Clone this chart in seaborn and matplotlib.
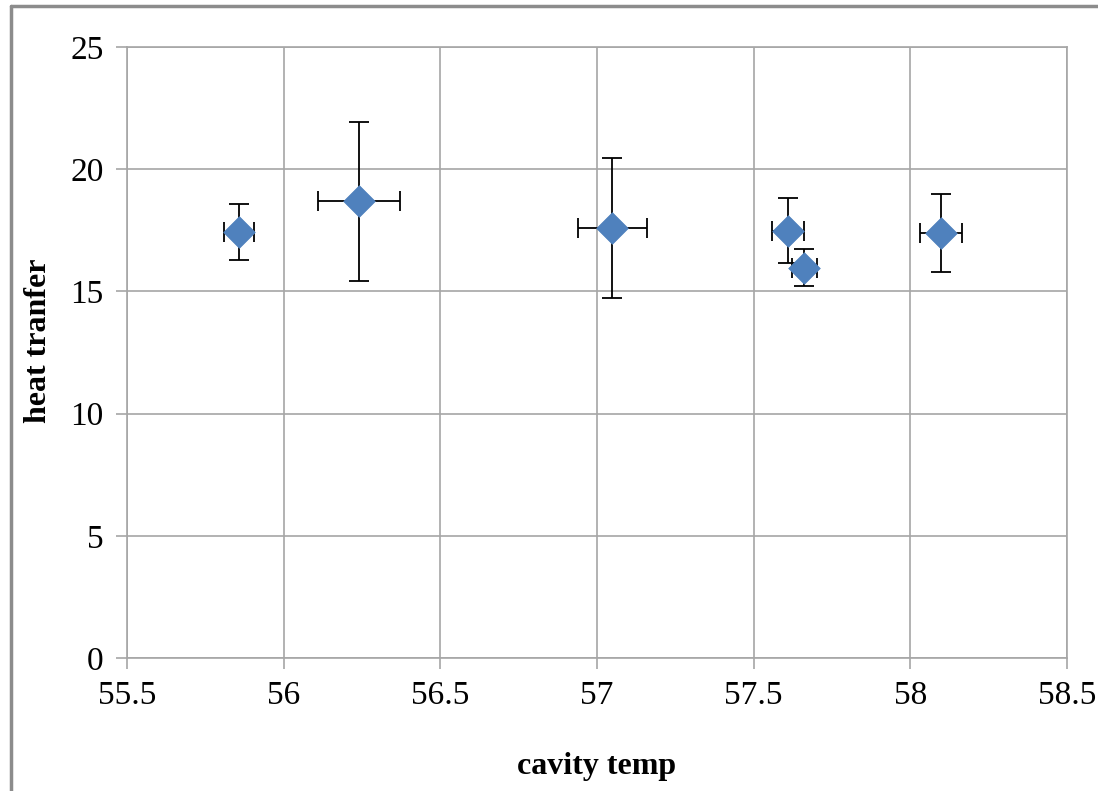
import seaborn as sns, matplotlib.pyplot as plt, pandas as pd
from matplotlib.lines import Line2D

cavity_temp = [55.857, 56.24, 57.049, 57.61, 57.661, 58.098]
heat_tranfer = [17.43, 18.68, 17.60, 17.48, 15.97, 17.40]
temp_err = [0.048, 0.131, 0.110, 0.050, 0.040, 0.068]
heat_err = [1.15, 3.25, 2.87, 1.33, 0.75, 1.60]

df = pd.DataFrame({"cavity temp": cavity_temp, "heat tranfer": heat_tranfer})

sns.set_style("white")
plt.rcParams['font.family'] = ['Liberation Serif', 'DejaVu Serif']
plt.rcParams['text.color'] = 'black'
plt.rcParams['axes.labelcolor'] = 'black'

f = plt.figure(figsize=(10.98, 7.91), dpi=100)
ax = f.add_axes([127/1098, 1-658/791, 940/1098, 611/791])

# error bars first, markers on top
ax.errorbar(df["cavity temp"], df["heat tranfer"], xerr=temp_err, yerr=heat_err,
            fmt='none', ecolor='black', elinewidth=1.3, capsize=7, capthick=1.3, zorder=3)
sns.scatterplot(x="cavity temp", y="heat tranfer", data=df, ax=ax, marker='D', s=260,
                color='#4F81BD', edgecolor='#4F81BD', linewidth=0.5, zorder=4)

ax.set_xlim(55.5, 58.5)
ax.set_ylim(0, 25)
ax.set_xticks([55.5, 56, 56.5, 57, 57.5, 58, 58.5])
ax.set_xticklabels(['55.5', '56', '56.5', '57', '57.5', '58', '58.5'])
ax.set_yticks([0, 5, 10, 15, 20, 25])
ax.grid(True, color='#A6A6A6', linewidth=1.2)
ax.set_axisbelow(True)
for s in ax.spines.values():
    s.set_color('#A6A6A6')
    s.set_linewidth(1.2)
ax.tick_params(axis='both', which='major', labelsize=24, length=8, width=1.2,
               color='#A6A6A6', labelcolor='black', direction='out', bottom=True, left=True)
ax.tick_params(axis='x', pad=8)
ax.tick_params(axis='y', pad=9)

ax.set_xlabel("cavity temp", fontsize=23, fontweight='bold', labelpad=30)
ax.set_ylabel("heat tranfer", fontsize=23, fontweight='bold', labelpad=12)
ax.yaxis.label.set_y(0.52)

# chart area border like the spreadsheet frame
f.add_artist(Line2D([11/1098, 11/1098], [0, 1-6/791], transform=f.transFigure, color='#8C8C8C', lw=2.5))
f.add_artist(Line2D([11/1098, 1], [1-6/791, 1-6/791], transform=f.transFigure, color='#8C8C8C', lw=2.5))

f.savefig('out.png', dpi=100)
